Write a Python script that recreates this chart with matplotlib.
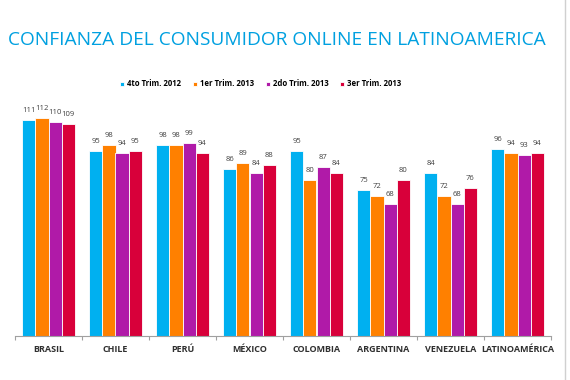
import matplotlib.pyplot as plt
import numpy as np

countries = ["BRASIL", "CHILE", "PERÚ", "MÉXICO", "COLOMBIA", "ARGENTINA", "VENEZUELA", "LATINOAMÉRICA"]
series_names = ["4to Trim. 2012", "1er Trim. 2013", "2do Trim. 2013", "3er Trim. 2013"]
q4_2012 = [111, 95, 98, 86, 95, 75, 84, 96]
q1_2013 = [112, 98, 98, 89, 80, 72, 72, 94]
q2_2013 = [110, 94, 99, 84, 87, 68, 68, 93]
q3_2013 = [109, 95, 94, 88, 84, 80, 76, 94]
colors = ["#00B0F0", "#FF8000", "#B01AA8", "#D8003A"]

plt.rcParams["font.family"] = ["Open Sans", "DejaVu Sans"]

fig = plt.figure(figsize=(5.7, 3.8), dpi=100)
ax = fig.add_axes([15 / 570, 1 - 336 / 380, 536 / 570, 235.5 / 380])

x = np.arange(len(countries))
width = 0.195
for i, (vals, name) in enumerate(zip([q4_2012, q1_2013, q2_2013, q3_2013], series_names)):
    pos = x + (i - 1.5) * width
    ax.bar(pos, vals, width, color=colors[i], edgecolor="white", linewidth=0.6, label=name)
    for xi, v in zip(pos, vals):
        ax.text(xi, v + 3, str(v), ha="center", va="bottom", fontsize=5.5, color="#404040")

ax.set_xlim(-0.5, len(countries) - 0.5)
ax.set_ylim(0, 121)
ax.set_yticks([])
for s in ["top", "left", "right"]:
    ax.spines[s].set_visible(False)
ax.spines["bottom"].set_color("#a0a0a0")
ax.set_xticks(np.arange(-0.5, len(countries), 1.0))
ax.set_xticklabels([])
ax.tick_params(axis="x", length=3, color="#a0a0a0")
for xi, c in zip(x, countries):
    ax.text(xi, -7, c, ha="center", va="center", fontsize=6.5, fontweight="bold", color="#303030")

handles, labels = ax.get_legend_handles_labels()
fig.legend(handles, labels, loc="center", bbox_to_anchor=(261 / 570, 1 - 84 / 380), ncol=4,
           frameon=False, handlelength=0.5, handleheight=0.5, columnspacing=1.5,
           handletextpad=0.4, prop={"weight": "bold", "size": 5.6})

fig.text(8 / 570, 1 - 40 / 380, "CONFIANZA DEL CONSUMIDOR ONLINE EN LATINOAMERICA",
         ha="left", va="center", fontsize=13.8, color="#00A0E0")

fig.add_artist(plt.Line2D([565 / 570, 565 / 570], [0, 1], color="#d0d0d0", linewidth=1))

fig.savefig("out.png", dpi=100)
